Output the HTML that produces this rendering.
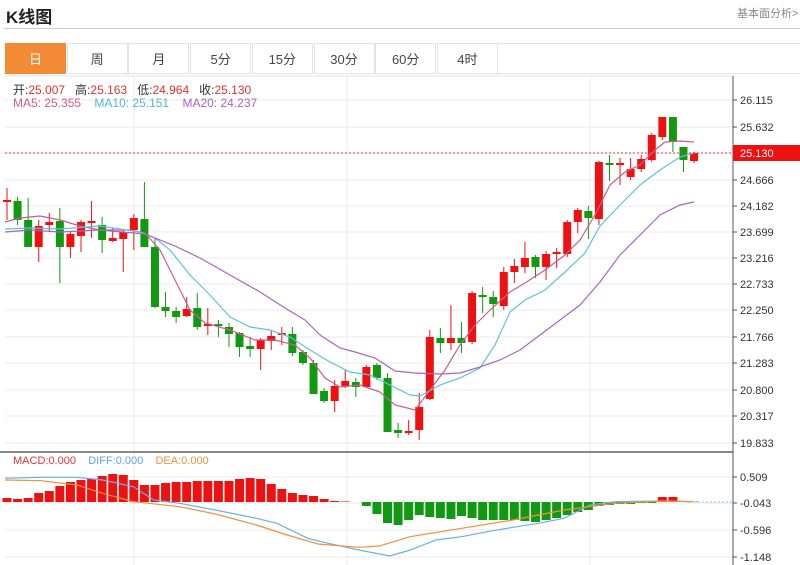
<!DOCTYPE html>
<html><head><meta charset="utf-8"><style>
body{margin:0;width:800px;height:565px;overflow:hidden;background:#fff;font-family:"Liberation Sans","Noto Sans CJK SC",sans-serif;position:relative}
.t{position:absolute;white-space:nowrap}
</style></head><body>
<div class="t" style="left:6px;top:3px;font-size:17px;font-weight:bold;color:#222">K线图</div>
<div class="t" style="left:737px;top:5px;font-size:11px;color:#888">基本面分析&gt;</div>
<div style="position:absolute;left:4px;top:28px;width:796px;height:1px;background:#ccc"></div>
<div id="tabs"></div>
<svg id="s" width="800" height="565" style="position:absolute;left:0;top:0" xmlns="http://www.w3.org/2000/svg"></svg>
<script>
var tabs=["日","周","月","5分","15分","30分","60分","4时"],h="";
for(var i=0;i<8;i++){var l=5+i*61.7;h+='<div class="t" style="left:'+l+'px;top:43px;width:61px;height:31px;line-height:31px;text-align:center;font-size:13px;border:1px solid #e3e3e3;box-sizing:border-box;'+(i==0?'background:#f38a35;color:#fff;border-color:#f38a35':'color:#444')+'">'+tabs[i]+'</div>';}
h+='<div style="position:absolute;left:498px;top:43px;width:302px;height:31px;border-top:1px solid #e3e3e3;border-bottom:1px solid #e3e3e3;box-sizing:border-box"></div>';
document.getElementById("tabs").innerHTML=h;
var s="";
function X(i){return 7+i*10.57}
// grid
var pl=["26.115","25.632","24.666","24.182","23.699","23.216","22.733","22.250","21.766","21.283","20.800","20.317","19.833"];
var py=[100,127,180,206,232,258,284,310,337,363,390,416,443];
for(var k=0;k<13;k++){s+='<line x1="5" x2="733" y1="'+py[k]+'" y2="'+py[k]+'" stroke="#eaeaea"/>';s+='<line x1="733" x2="737" y1="'+py[k]+'" y2="'+py[k]+'" stroke="#555"/><text x="740" y="'+(py[k]+4)+'" font-size="11" fill="#333">'+pl[k]+'</text>';}
s+='<line x1="5" x2="733" y1="153" y2="153" stroke="#eaeaea"/>';
var ml=["0.509","-0.043","-0.596","-1.148"],my=[477,503,530,557];
for(k=0;k<4;k++){s+='<line x1="5" x2="733" y1="'+my[k]+'" y2="'+my[k]+'" stroke="#eaeaea"/>';s+='<line x1="733" x2="737" y1="'+my[k]+'" y2="'+my[k]+'" stroke="#555"/><text x="740" y="'+(my[k]+4)+'" font-size="11" fill="#333">'+ml[k]+'</text>';}
[134,347,590].forEach(function(x){s+='<line x1="'+x+'" x2="'+x+'" y1="76" y2="565" stroke="#eaeaea"/>'});
s+='<line x1="5" x2="733" y1="76" y2="76" stroke="#e3e3e3"/>';
s+='<line x1="0" x2="733" y1="452" y2="452" stroke="#888" stroke-width="2"/>';
s+='<line x1="733" x2="733" y1="76" y2="565" stroke="#555"/>';
// candles: [bodyTop,bodyBot,wickTop,wickBot,color r/g]
var c=[[200,202,188,220,'r'],[201,220,197,225,'g'],[220,247,198,247,'g'],[226,247,220,262,'r'],[222,225,213,232,'r'],[221,247,208,283,'g'],[234,247,232,258,'r'],[222,236,220,252,'r'],[221,223,201,238,'r'],[225,240,217,253,'g'],[238,241,228,242,'r'],[232,239,230,272,'r'],[218,230,214,250,'r'],[219,247,182,247,'g'],[247,307,238,308,'g'],[307,311,292,317,'g'],[311,317,307,323,'g'],[309,316,297,317,'r'],[308,327,293,330,'g'],[324,326,308,335,'r'],[324,326,320,337,'g'],[327,334,323,347,'g'],[333,347,332,357,'g'],[346,349,337,357,'g'],[340,349,338,370,'r'],[336,341,330,350,'r'],[333,335,327,345,'r'],[334,353,327,356,'g'],[352,363,350,365,'g'],[363,394,360,394,'g'],[391,401,388,403,'g'],[386,401,380,412,'r'],[381,386,370,388,'r'],[382,387,378,397,'g'],[367,387,365,388,'r'],[365,378,363,380,'g'],[378,432,373,432,'g'],[430,433,423,438,'g'],[431,433,420,435,'r'],[407,430,393,440,'r'],[337,399,330,400,'r'],[338,343,328,353,'g'],[338,343,305,350,'r'],[338,343,322,353,'g'],[293,342,291,344,'r'],[295,297,287,313,'g'],[297,304,291,317,'g'],[272,306,267,310,'r'],[266,272,259,283,'r'],[258,267,242,273,'r'],[257,267,255,278,'g'],[254,267,251,280,'r'],[252,254,248,268,'r'],[222,254,220,257,'r'],[210,222,208,233,'r'],[211,218,206,239,'g'],[162,219,161,225,'r'],[163,165,155,181,'g'],[163,165,158,185,'r'],[169,177,158,180,'r'],[159,169,155,172,'r'],[135,160,133,162,'r'],[117,137,117,140,'r'],[117,142,117,152,'g'],[147,160,147,172,'g'],[153,161,152,163,'r']];
c.forEach(function(d,i){var x=X(i),col=d[4]=='r'?'#ee1111':'#119911';s+='<line x1="'+x+'" x2="'+x+'" y1="'+d[2]+'" y2="'+d[3]+'" stroke="'+col+'"/>';s+='<rect x="'+(x-4)+'" y="'+d[0]+'" width="8" height="'+Math.max(2,d[1]-d[0])+'" fill="'+col+'"/>';});
function pl2(p,col){s+='<polyline fill="none" stroke="'+col+'" stroke-width="1.2" points="'+p.map(function(q){return q.join(",")}).join(" ")+'"/>';}
pl2([[5,222],[20,218],[40,216],[60,220],[80,226],[100,230],[130,230],[145,233],[160,250],[175,280],[190,310],[205,323],[230,330],[255,340],[275,340],[295,345],[310,358],[325,378],[340,387],[360,385],[380,392],[395,405],[415,410],[430,390],[445,370],[460,345],[475,325],[490,310],[510,292],[525,283],[545,270],[565,255],[580,240],[595,215],[610,185],[625,172],[640,165],[655,150],[665,142],[680,141],[694,142]],'#cc5c8c');
pl2([[5,229],[30,228],[60,229],[100,226],[140,232],[155,238],[170,250],[190,275],[210,295],[230,317],[250,327],[270,330],[290,337],[310,350],[330,362],[350,372],[370,375],[390,385],[410,395],[420,396],[440,385],[460,378],[480,368],[495,345],[510,312],[525,300],[545,290],[565,272],[585,253],[600,226],[620,205],[640,185],[660,170],[680,157],[694,153]],'#5ec3d8');
pl2([[5,232],[30,230],[60,232],[100,230],[145,234],[175,246],[200,258],[230,275],[260,292],[285,308],[305,320],[320,335],[340,348],[355,352],[375,358],[395,371],[415,373],[440,374],[460,373],[480,367],[500,360],[520,350],[540,335],[560,320],[580,305],[600,282],[620,255],[640,235],[660,215],[680,205],[694,202]],'#a865c0');
s+='<line x1="5" x2="733" y1="153" y2="153" stroke="#e33" stroke-dasharray="2,2"/>';
s+='<rect x="733" y="145" width="67" height="16" fill="#ee1111"/><text x="740" y="157" font-size="11" fill="#fff">25.130</text>';
// MACD
var z=502,red=[4,3,4,9,11,16,20,22,23,26,28,27,22,17,17,19,20,20,21,21,21,21,23,24,23,18,13,9,7,6,3,1,0.5],gr=[4,12,21,23,18,13,15,16,17,14,16,18,18,18,18,19,20,18,16,13,10,8,4,3,2,2,1,1];
red.forEach(function(v,i){s+='<rect x="'+(X(i)-4.5)+'" y="'+(z-v)+'" width="9" height="'+v+'" fill="#ee1111"/>'});
gr.forEach(function(v,i){s+='<rect x="'+(X(i+34)-4.5)+'" y="'+z+'" width="9" height="'+v+'" fill="#119911"/>'});
[[62,5],[63,5],[64,1],[65,0.5]].forEach(function(a){s+='<rect x="'+(X(a[0])-4.5)+'" y="'+(z-a[1])+'" width="9" height="'+a[1]+'" fill="#ee1111"/>'});
s+='<line x1="694" x2="733" y1="502" y2="502" stroke="#9cd" stroke-dasharray="2,2"/>';
function cv(a){return a.map(function(q){return [q[0]/1.95,440+q[1]/3]})}
pl2(cv([[10,115],[80,112],[150,112],[200,120],[260,140],[300,180],[350,190],[420,210],[500,235],[540,250],[600,295],[640,310],[700,330],[760,348],[800,330],[850,300],[900,290],[950,275],[1000,262],[1050,250],[1100,235],[1150,195],[1200,185],[1300,183],[1350,185]]),'#6ab0e0');
pl2(cv([[10,120],[80,122],[150,135],[200,160],[260,185],[350,200],[420,222],[500,255],[560,285],[620,312],[700,322],[740,318],[800,290],[900,265],[1000,240],[1100,210],[1200,190],[1300,183],[1350,185]]),'#f09040');
document.getElementById("s").innerHTML=s;
</script>
<div class="t" style="left:13px;top:81px;font-size:12px;color:#333">开:<span style="color:#d33">25.007</span>&nbsp;&nbsp; 高:<span style="color:#d33">25.163</span>&nbsp;&nbsp; 低:<span style="color:#d33">24.964</span>&nbsp;&nbsp; 收:<span style="color:#d33">25.130</span></div>
<div class="t" style="left:13px;top:96px;font-size:12px"><span style="color:#d45b8a">MA5:&nbsp;25.355</span>&nbsp;&nbsp;&nbsp; <span style="color:#4fb8d0">MA10:&nbsp;25.151</span>&nbsp;&nbsp;&nbsp; <span style="color:#a865c0">MA20:&nbsp;24.237</span></div>
<div class="t" style="left:13px;top:455px;font-size:11px"><span style="color:#d33">MACD:0.000</span>&nbsp;&nbsp;&nbsp; <span style="color:#5aa8e0">DIFF:0.000</span>&nbsp;&nbsp;&nbsp; <span style="color:#f09040">DEA:0.000</span></div>
</body></html>
